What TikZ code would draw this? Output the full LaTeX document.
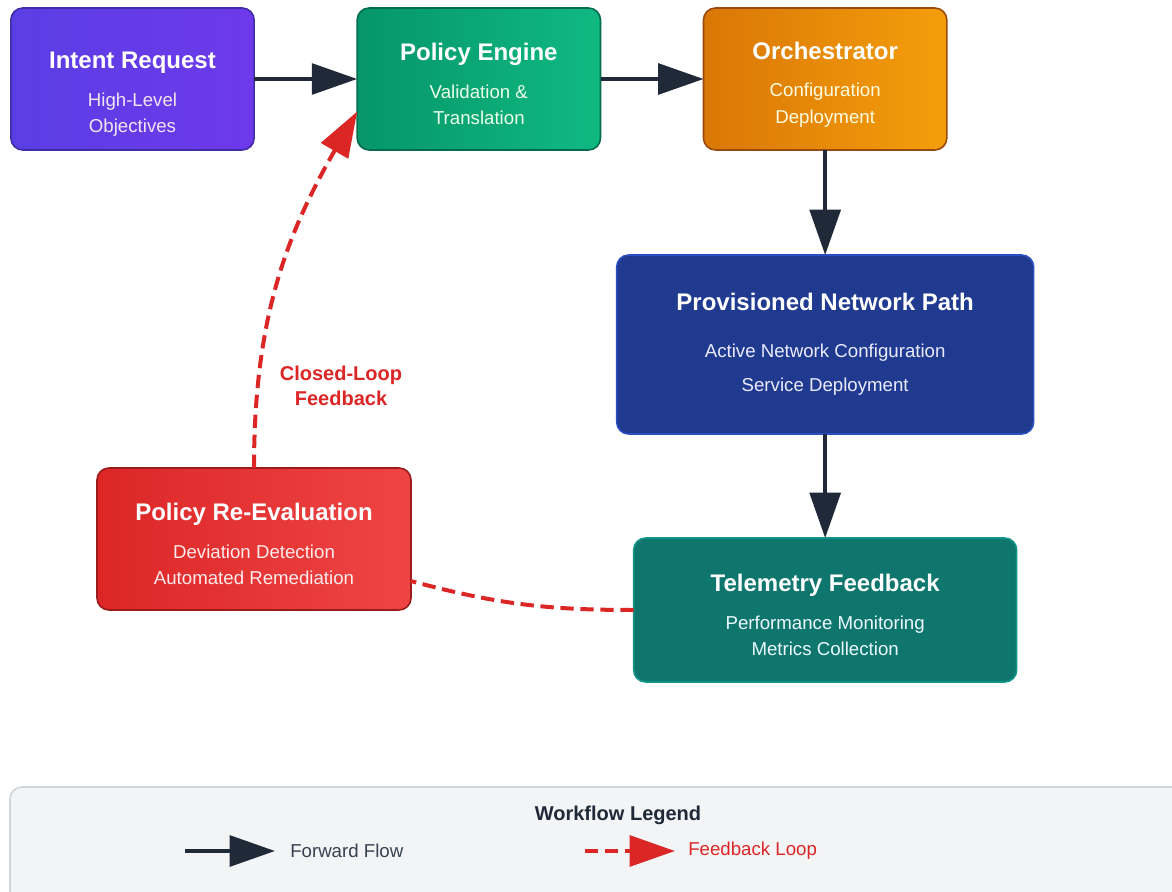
\documentclass[tikz,border=0pt]{standalone}
\usepackage{fontspec}
\setmainfont{Liberation Sans}
\usetikzlibrary{positioning, arrows.meta}

\definecolor{ink}{HTML}{1F2937}
\definecolor{loopred}{HTML}{DC2626}
\definecolor{legendfill}{HTML}{F3F4F6}
\definecolor{legendline}{HTML}{D1D5DB}
\definecolor{legendtext}{HTML}{374151}
% stage colours
\definecolor{intentA}{HTML}{5A3EE4}
\definecolor{intentB}{HTML}{6E39EA}
\definecolor{intentEdge}{HTML}{3F2DA8}
\definecolor{policyA}{HTML}{059669}
\definecolor{policyB}{HTML}{10B981}
\definecolor{policyEdge}{HTML}{046C4E}
\definecolor{orchA}{HTML}{D97706}
\definecolor{orchB}{HTML}{F59E0B}
\definecolor{orchEdge}{HTML}{9A4A0C}
\definecolor{provFill}{HTML}{1F3A8F}
\definecolor{provEdge}{HTML}{2B4FC0}
\definecolor{teleFill}{HTML}{0F766E}
\definecolor{teleEdge}{HTML}{13968A}
\definecolor{reevalA}{HTML}{DC2626}
\definecolor{reevalB}{HTML}{EF4444}
\definecolor{reevalEdge}{HTML}{9B1C1C}

\newcommand{\titlefont}{\fontsize{18}{22}\selectfont\bfseries}
\newcommand{\subfont}{\fontsize{14}{20}\selectfont}
% title line, then two smaller lines (the strut pushes the block down a bit)
\newcommand{\stage}[4][21pt]{\rule{0pt}{#1}{\titlefont\color{white}#2}\\[8pt]#3\\#4}

\tikzset{
  stagebox/.style={rectangle, rounded corners=9pt, line width=1.2pt, outer sep=0pt,
    align=center, font=\subfont, minimum width=182.5pt, minimum height=106.5pt},
  flow/.style={line width=3pt, draw=ink, -{Triangle[length=34pt, width=23pt]}},
  feedback/.style={line width=3pt, draw=loopred, dash pattern=on 10pt off 5pt},
  legendlbl/.style={anchor=west, inner sep=0pt, font=\fontsize{14}{17}\selectfont}
}

\begin{document}
\begin{tikzpicture}[x=0.75pt, y=-0.75pt]
  \useasboundingbox (0,0) rectangle (1172,892);
  \fill[white] (0,0) rectangle (1172,892);

  % top row
  \node (intent) [stagebox, left color=intentA, right color=intentB, draw=intentEdge,
    text=violet!10] at (132.5,79) {\stage[35.5pt]{Intent Request}{High-Level}{Objectives}};
  \node (policy) [stagebox, left color=policyA, right color=policyB, draw=policyEdge,
    text=green!8, right=77.25pt of intent] {\stage{Policy Engine}{Validation \&}{Translation}};
  \node (orch) [stagebox, left color=orchA, right color=orchB, draw=orchEdge,
    text=yellow!12, right=77.25pt of policy] {\stage{Orchestrator}{Configuration}{Deployment}};

  % right column
  \node (prov) [stagebox, fill=provFill, draw=provEdge, text=blue!8,
    minimum width=312.75pt, minimum height=134.25pt, below=78.75pt of orch]
    {{\titlefont\color{white}Provisioned Network Path}\\[15pt]
     Active Network Configuration\\[6pt]Service Deployment};
  \node (tele) [stagebox, fill=teleFill, draw=teleEdge, text=cyan!8,
    minimum width=287.25pt, minimum height=108pt, below=78pt of prov]
    {\stage{Telemetry Feedback}{Performance Monitoring}{Metrics Collection}};

  % re-evaluation stage
  \node (reeval) [stagebox, left color=reevalA, right color=reevalB, draw=reevalEdge,
    text=red!8, minimum width=235.5pt] at (254,539)
    {\stage{Policy Re-Evaluation}{Deviation Detection}{Automated Remediation}};

  % forward path
  \draw[flow] (intent) -- (policy);
  \draw[flow] (policy) -- (orch);
  \draw[flow] (orch) -- (prov);
  \draw[flow] (prov) -- (tele);

  % closed loop
  \draw[feedback] (tele.west) to[out=180, in=-15] (reeval.-15);
  \draw[feedback, -{Triangle[length=34pt, width=23pt]}]
    (reeval.north) to[out=90, in=240] (policy.195);
  \node (looplbl) [text=loopred, align=center, font=\fontsize{15}{18.75}\selectfont\bfseries]
    at (341,386) {Closed-Loop\\Feedback};

  % legend
  \node (legend) [rectangle, rounded corners=9pt, draw=legendline, fill=legendfill,
    line width=1.2pt, outer sep=0pt, anchor=north west,
    minimum width=885pt, minimum height=90pt] at (10,787) {};
  \node (legtitle) [text=ink, font=\fontsize{15}{18}\selectfont\bfseries] at (618,815) {Workflow Legend};
  \coordinate (fwdfrom) at (185,851);
  \node (fwdlbl) [legendlbl, text=legendtext] at (290,851) {Forward Flow};
  \draw[flow, shorten >=11.25pt] (fwdfrom) -- (fwdlbl.west);
  \coordinate (fbfrom) at (585,851);
  \node (fblbl) [legendlbl, text=loopred] at (688,851) {Feedback Loop};
  \draw[feedback, shorten >=9.75pt, -{Triangle[length=34pt, width=23pt]}] (fbfrom) -- (fblbl.west);
\end{tikzpicture}
\end{document}
